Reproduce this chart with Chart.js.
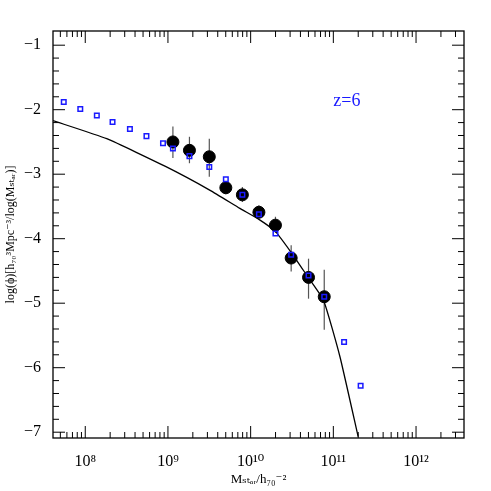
<!DOCTYPE html>
<html>
<head>
<meta charset="utf-8">
<script src="https://cdn.jsdelivr.net/npm/chart.js@4.4.0/dist/chart.umd.min.js"></script>
<style>
  body { margin: 0; background: #fff; }
  #wrap { width: 491px; height: 491px; }
</style>
</head>
<body>
<div id="wrap"><canvas id="mf"></canvas></div>
<script>
// log10(M_star) and log10(phi)
const modelX = [7.61, 8.26, 8.97, 9.51, 9.87, 10.1, 10.3, 10.5, 10.68, 10.88, 11.08, 11.3];
const modelY = [-2.17, -2.45, -2.88, -3.25, -3.53, -3.70, -3.89, -4.23, -4.57, -4.95, -5.83, -7.07];

const obsX = [9.06, 9.26, 9.50, 9.70, 9.90, 10.10, 10.30, 10.49, 10.70, 10.89];
const obsY = [-2.50, -2.63, -2.73, -3.21, -3.32, -3.59, -3.79, -4.30, -4.60, -4.90];
const obsLo = [-2.75, -2.83, -3.04, -3.31, -3.43, -3.68, -3.91, -4.51, -4.93, -5.41];
const obsHi = [-2.26, -2.42, -2.45, -3.11, -3.20, -3.48, -3.66, -4.10, -4.31, -4.48];

const simX = [7.74, 7.94, 8.14, 8.33, 8.54, 8.74, 8.94, 9.06, 9.26, 9.50, 9.70, 9.90, 10.10, 10.30, 10.49, 10.70, 10.89, 11.13, 11.33];
const simY = [-1.88, -1.99, -2.09, -2.19, -2.30, -2.41, -2.52, -2.60, -2.72, -2.89, -3.08, -3.32, -3.62, -3.92, -4.25, -4.57, -4.90, -5.60, -6.28];

const xMajor = [8, 9, 10, 11, 12];
const yMajor = [-1, -2, -3, -4, -5, -6, -7];
const sup = { "8": "⁸", "9": "⁹", "1": "¹", "0": "⁰", "2": "²" };

const serif = "'Liberation Serif', 'DejaVu Serif', serif";

const pts = (xs, ys) => xs.map((x, i) => ({ x: x, y: ys[i] }));

// error bars behind the circles
const errorBars = {
  id: "errorBars",
  beforeDatasetsDraw(chart) {
    const c = chart.ctx, xs = chart.scales.x, ys = chart.scales.y;
    c.save();
    c.strokeStyle = "#555";
    c.lineWidth = 1.2;
    obsX.forEach((x, i) => {
      const px = xs.getPixelForValue(x);
      c.beginPath();
      c.moveTo(px, ys.getPixelForValue(obsLo[i]));
      c.lineTo(px, ys.getPixelForValue(obsHi[i]));
      c.stroke();
    });
    c.restore();
  }
};

// inward ticks on all four sides, frame and the z label
const frame = {
  id: "frame",
  afterDraw(chart) {
    const c = chart.ctx, xs = chart.scales.x, ys = chart.scales.y, a = chart.chartArea;
    c.save();
    c.strokeStyle = "#000";
    c.lineWidth = 1.3;
    c.strokeRect(a.left, a.top, a.right - a.left, a.bottom - a.top);
    c.lineWidth = 1;
    c.beginPath();
    for (let d = 7; d <= 12; d++) {
      for (let k = 1; k <= 9; k++) {
        const v = d + Math.log10(k);
        if (v < xs.min || v > xs.max) continue;
        const px = xs.getPixelForValue(v), len = k === 1 ? 12 : 6;
        c.moveTo(px, a.bottom); c.lineTo(px, a.bottom - len);
        c.moveTo(px, a.top); c.lineTo(px, a.top + len);
      }
    }
    for (let v = -7; v <= -0.8; v += 0.2) {
      const py = ys.getPixelForValue(v);
      const major = Math.abs(v - Math.round(v)) < 0.01, len = major ? 12 : 6;
      c.moveTo(a.left, py); c.lineTo(a.left + len, py);
      c.moveTo(a.right, py); c.lineTo(a.right - len, py);
    }
    c.stroke();
    c.fillStyle = "#1a1aff";
    c.font = "18px " + serif;
    c.fillText("z=6", xs.getPixelForValue(11.0), ys.getPixelForValue(-1.95));
    c.restore();
  }
};

new Chart(document.getElementById("mf"), {
  type: "scatter",
  data: {
    datasets: [
      {
        type: "line",
        data: pts(modelX, modelY),
        borderColor: "#000",
        borderWidth: 1.3,
        pointRadius: 0,
        tension: 0.15,
        fill: false,
        order: 3
      },
      {
        data: pts(obsX, obsY),
        backgroundColor: "#000",
        borderColor: "#000",
        pointRadius: 6,
        order: 2
      },
      {
        data: pts(simX, simY),
        pointStyle: "rect",
        backgroundColor: "rgba(0,0,0,0)",
        borderColor: "#1a1aff",
        borderWidth: 1.5,
        pointRadius: 3.2,
        order: 1
      }
    ]
  },
  options: {
    responsive: true,
    maintainAspectRatio: false,
    animation: false,
    layout: { padding: { top: 31, right: 27, left: 0, bottom: 0 } },
    plugins: { legend: { display: false }, tooltip: { enabled: false } },
    scales: {
      x: {
        type: "linear",
        min: 7.61,
        max: 12.58,
        afterFit(s) { s.height = 53; },
        afterBuildTicks(s) { s.ticks = xMajor.map(v => ({ value: v })); },
        grid: { display: false },
        border: { display: false },
        ticks: {
          color: "#000",
          font: { family: serif, size: 16 },
          padding: 6,
          maxRotation: 0,
          callback: v => "10" + String(v).split("").map(ch => sup[ch]).join("")
        },
        title: {
          display: true,
          text: "Mₛₜₐᵣ/h₇₀⁻²",
          color: "#000",
          font: { family: serif, size: 13 },
          padding: { top: 2 }
        }
      },
      y: {
        min: -7.09,
        max: -0.78,
        afterFit(s) { s.width = 53; },
        afterBuildTicks(s) { s.ticks = yMajor.map(v => ({ value: v })); },
        grid: { display: false },
        border: { display: false },
        ticks: {
          color: "#000",
          font: { family: serif, size: 16 },
          padding: 4,
          callback: v => "−" + Math.abs(v)
        },
        title: {
          display: true,
          text: "log(ϕ)[h₇₀³Mpc⁻³/log(Mₛₜₐᵣ)]",
          color: "#000",
          font: { family: serif, size: 12 },
          padding: { bottom: 0 }
        }
      }
    }
  },
  plugins: [errorBars, frame]
});
</script>
</body>
</html>
